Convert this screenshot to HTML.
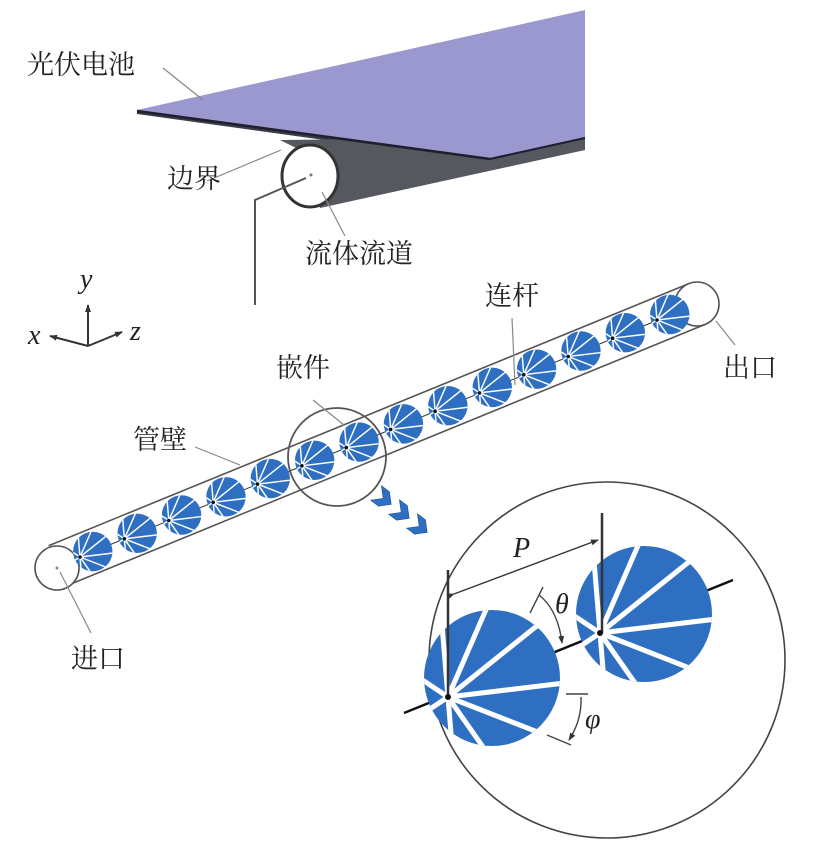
<!DOCTYPE html>
<html><head><meta charset="utf-8"><style>
html,body{margin:0;padding:0;background:#fff}
svg{display:block}
.cn{font-family:"Liberation Serif","Noto Serif CJK SC","Noto Sans CJK SC",serif;font-size:27px;fill:#222}
.it{font-family:"Liberation Serif",serif;font-style:italic;font-size:28px;fill:#222}
</style></head><body>
<svg width="827" height="847" viewBox="0 0 827 847" xmlns="http://www.w3.org/2000/svg">
<defs>
<clipPath id="fc"><circle cx="44" cy="-19" r="68"/></clipPath>
<g id="fan">
<circle cx="44" cy="-19" r="68" fill="#2f6fc2"/>
<g clip-path="url(#fc)" stroke="#fff" stroke-width="5">
<line x1="0" y1="0" x2="-10" y2="-120"/>
<line x1="0" y1="0" x2="50" y2="-115"/>
<line x1="0" y1="0" x2="100" y2="-80"/>
<line x1="0" y1="0" x2="125" y2="-15"/>
<line x1="0" y1="0" x2="115" y2="45"/>
<line x1="0" y1="0" x2="70" y2="100"/>
<line x1="0" y1="0" x2="10" y2="120"/>
<line x1="0" y1="0" x2="-60" y2="40"/>
<line x1="0" y1="0" x2="-60" y2="-40"/>
</g>
</g>
<marker id="ar" markerWidth="8" markerHeight="8" refX="7" refY="4" orient="auto" markerUnits="userSpaceOnUse"><path d="M0 1L8 4L0 7Z" fill="#333"/></marker>
</defs>

<polygon points="137,110 585,145 585,150 490,163 137,114" fill="#3a3d48"/>
<polygon points="280,140 585,137 585,150 320,208 300,150" fill="#55585e"/>
<polygon points="137,110 585,10 585,137 490,158" fill="#9a98cf"/>
<line x1="137" y1="111" x2="490" y2="159" stroke="#1e2030" stroke-width="2.5"/>
<line x1="490" y1="159" x2="585" y2="138" stroke="#1e2030" stroke-width="2"/>
<ellipse cx="310" cy="176" rx="28" ry="31" fill="#fff" stroke="#333" stroke-width="3"/>
<circle cx="311" cy="175" r="1.5" fill="#777"/>
<g stroke="#888" stroke-width="1.2" fill="none">
<line x1="163" y1="68" x2="203" y2="100"/>
<line x1="207" y1="181" x2="281" y2="150"/>
<line x1="345" y1="236" x2="322" y2="192"/>
</g>
<polyline points="255,305 255,200 306,178" fill="none" stroke="#555" stroke-width="2"/>
<text class="cn" x="27" y="74">光伏电池</text>
<text class="cn" x="167" y="188">边界</text>
<text class="cn" x="305" y="263">流体流道</text>

<g stroke="#333" stroke-width="2" fill="none">
<line x1="88" y1="346" x2="88" y2="305" marker-end="url(#ar)"/>
<line x1="88" y1="346" x2="122" y2="332" marker-end="url(#ar)"/>
<line x1="88" y1="346" x2="50" y2="336" marker-end="url(#ar)"/>
</g>
<text class="it" x="80" y="288">y</text>
<text class="it" x="130" y="340">z</text>
<text class="it" x="28" y="344">x</text>

<g stroke="#555" stroke-width="1.6" fill="none">
<line x1="48.6" y1="545.7" x2="688.6" y2="283.7"/>
<line x1="65.4" y1="586.3" x2="705.4" y2="324.3"/>
<circle cx="57" cy="568" r="22" fill="#fff"/>
<circle cx="697" cy="304" r="22"/>
</g>
<line x1="80" y1="557" x2="680" y2="311" stroke="#333" stroke-width="1"/>
<g>
<use href="#fan" transform="translate(80,557) scale(0.29)"/>
<use href="#fan" transform="translate(124.4,538.8) scale(0.29)"/>
<use href="#fan" transform="translate(168.8,520.5) scale(0.29)"/>
<use href="#fan" transform="translate(213.2,502.3) scale(0.29)"/>
<use href="#fan" transform="translate(257.5,484.1) scale(0.29)"/>
<use href="#fan" transform="translate(301.9,465.8) scale(0.29)"/>
<use href="#fan" transform="translate(346.3,447.6) scale(0.29)"/>
<use href="#fan" transform="translate(390.7,429.4) scale(0.29)"/>
<use href="#fan" transform="translate(435.1,411.2) scale(0.29)"/>
<use href="#fan" transform="translate(479.5,392.9) scale(0.29)"/>
<use href="#fan" transform="translate(523.8,374.7) scale(0.29)"/>
<use href="#fan" transform="translate(568.2,356.5) scale(0.29)"/>
<use href="#fan" transform="translate(612.6,338.2) scale(0.29)"/>
<use href="#fan" transform="translate(657,320) scale(0.29)"/>
</g>
<g fill="#111">
<circle cx="80" cy="557" r="1.8"/><circle cx="124.4" cy="538.8" r="1.8"/><circle cx="168.8" cy="520.5" r="1.8"/><circle cx="213.2" cy="502.3" r="1.8"/><circle cx="257.5" cy="484.1" r="1.8"/><circle cx="301.9" cy="465.8" r="1.8"/><circle cx="346.3" cy="447.6" r="1.8"/><circle cx="390.7" cy="429.4" r="1.8"/><circle cx="435.1" cy="411.2" r="1.8"/><circle cx="479.5" cy="392.9" r="1.8"/><circle cx="523.8" cy="374.7" r="1.8"/><circle cx="568.2" cy="356.5" r="1.8"/><circle cx="612.6" cy="338.2" r="1.8"/><circle cx="657" cy="320" r="1.8"/>
</g>
<circle cx="337" cy="457" r="49" fill="none" stroke="#555" stroke-width="1.8"/>
<circle cx="57" cy="568" r="1.5" fill="#888"/>
<g fill="#2f6fc2" stroke="#1e4f95" stroke-width="0.6">
<path d="M-10 -9L0 -9L9 0L0 9L-10 9L-1 0Z" transform="translate(384,499) rotate(37)"/>
<path d="M-10 -9L0 -9L9 0L0 9L-10 9L-1 0Z" transform="translate(402,513) rotate(37)"/>
<path d="M-10 -9L0 -9L9 0L0 9L-10 9L-1 0Z" transform="translate(420,527) rotate(37)"/>
</g>
<g stroke="#888" stroke-width="1.2" fill="none">
<line x1="512" y1="318" x2="515" y2="385"/>
<line x1="716" y1="321" x2="735" y2="345"/>
<line x1="313" y1="400" x2="344" y2="425"/>
<line x1="195" y1="447" x2="240" y2="465"/>
<line x1="60" y1="572" x2="91" y2="633"/>
</g>
<text class="cn" x="485" y="305">连杆</text>
<text class="cn" x="723" y="377">出口</text>
<text class="cn" x="276" y="377">嵌件</text>
<text class="cn" x="133" y="449">管壁</text>
<text class="cn" x="71" y="668">进口</text>

<circle cx="607" cy="660" r="178" fill="#fff" stroke="#444" stroke-width="1.6"/>
<line x1="404" y1="713" x2="733" y2="580" stroke="#111" stroke-width="2.5"/>
<use href="#fan" transform="translate(600,633)"/>
<use href="#fan" transform="translate(448,697)"/>
<line x1="448" y1="570" x2="448" y2="697" stroke="#333" stroke-width="2.5"/>
<line x1="602" y1="513" x2="602" y2="633" stroke="#333" stroke-width="2.5"/>
<circle cx="448" cy="697" r="3" fill="#111"/>
<circle cx="600" cy="633" r="3" fill="#111"/>
<line x1="454" y1="594" x2="598" y2="540" stroke="#333" stroke-width="1.4" marker-start="url(#ar)" marker-end="url(#ar)"/>
<text class="it" x="513" y="557">P</text>
<g stroke="#444" stroke-width="1.4" fill="none">
<line x1="543" y1="587" x2="530" y2="613"/>
<path d="M539 595 Q558 610 562 643" marker-end="url(#ar)"/>
<line x1="566" y1="694" x2="588" y2="694"/>
<path d="M581 697 Q582 720 569 740" marker-end="url(#ar)"/>
<line x1="547" y1="735" x2="571" y2="745"/>
</g>
<text class="it" x="555" y="613">θ</text>
<text class="it" x="585" y="728">φ</text>
</svg>
</body></html>
